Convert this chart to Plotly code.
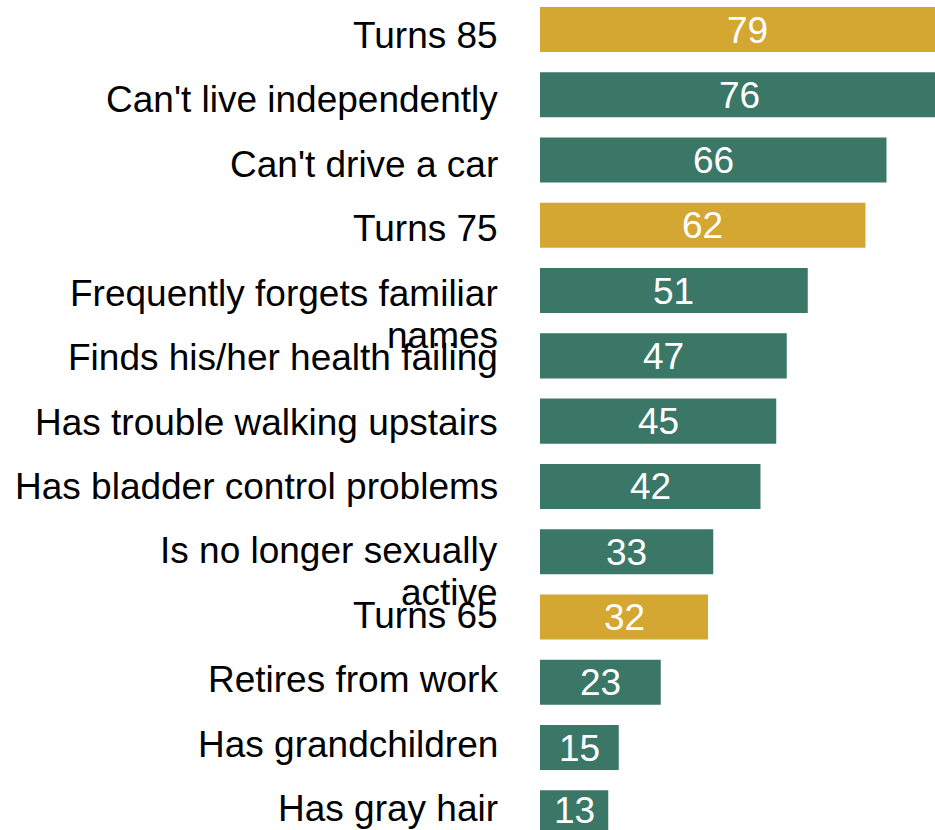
import plotly.graph_objects as go

# Data (top to bottom)
categories = [
    "Turns 85",
    "Can't live independently",
    "Can't drive a car",
    "Turns 75",
    "Frequently forgets familiar names",
    "Finds his/her health failing",
    "Has trouble walking upstairs",
    "Has bladder control problems",
    "Is no longer sexually active",
    "Turns 65",
    "Retires from work",
    "Has grandchildren",
    "Has gray hair",
]
values = [79, 76, 66, 62, 51, 47, 45, 42, 33, 32, 23, 15, 13]
kinds = ["age", "event", "event", "age", "event", "event", "event",
         "event", "event", "age", "event", "event", "event"]
# wrapped display labels
label_lines = [
    ["Turns 85"],
    ["Can't live independently"],
    ["Can't drive a car"],
    ["Turns 75"],
    ["Frequently forgets familiar", "names"],
    ["Finds his/her health failing"],
    ["Has trouble walking upstairs"],
    ["Has bladder control problems"],
    ["Is no longer sexually", "active"],
    ["Turns 65"],
    ["Retires from work"],
    ["Has grandchildren"],
    ["Has gray hair"],
]

color_map = {"age": "#D4A632", "event": "#3A7767"}
colors = [color_map[k] for k in kinds]

FONT = "Liberation Sans, Arial, sans-serif"
FS = 37
BARGAP = 0.31
Y_RANGE = [12.264, -0.452]

fig = go.Figure()
fig.add_trace(go.Bar(
    x=values, y=categories, orientation="h",
    marker=dict(color=colors, line=dict(width=0)),
    hoverinfo="skip",
))
# invisible trace on the label axis (labels are spaced slightly tighter than bars)
label_idx = list(range(len(categories)))
fig.add_trace(go.Scatter(
    x=[0] * len(categories), y=label_idx, yaxis="y2", mode="markers",
    marker=dict(opacity=0, size=1), hoverinfo="skip", cliponaxis=False,
))

annotations = []
half = (1 - BARGAP) / 2
# value labels centred in the visible part of each bar
for i, v in zip(label_idx, values):
    top = i - half
    bottom = min(i + half, Y_RANGE[0])
    annotations.append(dict(
        x=v / 2, xref="x", y=(top + bottom) / 2, yref="y",
        text=str(v), showarrow=False,
        xanchor="center", yanchor="middle", yshift=-0.5,
        font=dict(family=FONT, size=FS, color="white"),
    ))
# category labels
for i, lines in zip(label_idx, label_lines):
    for j, line in enumerate(lines):
        annotations.append(dict(
            x=0, xref="paper", y=i, yref="y2",
            text=line, showarrow=False,
            xanchor="right", yanchor="middle",
            xshift=-40, yshift=-5 - 42 * j,
            font=dict(family=FONT, size=FS, color="black"),
        ))

fig.update_layout(
    width=935, height=830,
    margin=dict(l=540, r=0, t=0, b=0, pad=0),
    plot_bgcolor="white", paper_bgcolor="white",
    showlegend=False, bargap=BARGAP,
    annotations=annotations,
    xaxis=dict(range=[0, 75.24], visible=False, fixedrange=True),
    yaxis=dict(type="category", categoryorder="array", categoryarray=categories,
               range=Y_RANGE, visible=False, fixedrange=True),
    yaxis2=dict(overlaying="y", anchor="x", range=[12.411, -0.4735],
                visible=False, fixedrange=True),
)

fig.write_html(
    "out.html",
    config={"displayModeBar": False},
    post_script="document.body.style.margin='0';document.body.style.overflow='hidden';",
)
